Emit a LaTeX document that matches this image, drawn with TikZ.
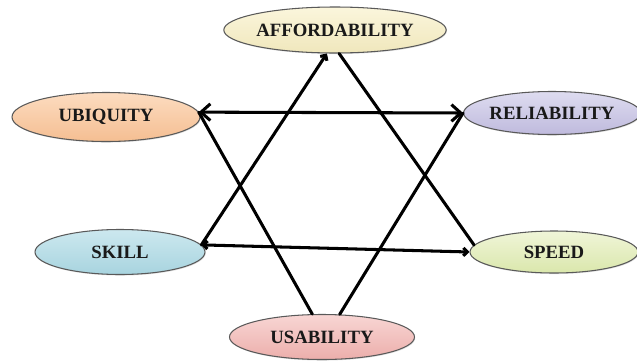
\documentclass[tikz,border=0pt]{standalone}
\usepackage{fontspec}
\setmainfont{Liberation Serif}
\usetikzlibrary{shapes.geometric,arrows.meta,shadows}

\definecolor{affTop}{HTML}{FBF6DC}
\definecolor{affBot}{HTML}{F0E7BC}
\definecolor{ubiTop}{HTML}{FCDCC0}
\definecolor{ubiBot}{HTML}{F5BE92}
\definecolor{relTop}{HTML}{DEDCF0}
\definecolor{relBot}{HTML}{BFBADD}
\definecolor{skiTop}{HTML}{CCE8EF}
\definecolor{skiBot}{HTML}{A8D4DF}
\definecolor{speTop}{HTML}{F0F5D8}
\definecolor{speBot}{HTML}{DAE7AC}
\definecolor{usaTop}{HTML}{F8D6D4}
\definecolor{usaBot}{HTML}{ECAEAB}

\begin{document}
\begin{tikzpicture}[x=0.03cm,y=-0.03cm,
  bubble/.style={ellipse, draw=black!65, line width=0.9pt, inner sep=0pt,
    drop shadow={opacity=0.25,shadow xshift=0.6pt,shadow yshift=-0.9pt},
    font=\fontsize{16}{18}\selectfont\bfseries, text=black!90},
  link/.style={line width=2.6pt, line cap=round},
  bigtip/.tip={Straight Barb[length=2.8mm,width=5mm]},
  smalltip/.tip={Straight Barb[length=1.2mm,width=2.4mm]}]
\useasboundingbox (0,0) rectangle (637,362);

% the six factors
\node[bubble, top color=affTop, bottom color=affBot,
  minimum width=6.12cm, minimum height=1.38cm] (aff) at (335,30) {AFFORDABILITY};
\node[bubble, top color=ubiTop, bottom color=ubiBot,
  minimum width=5.64cm, minimum height=1.47cm] (ubi) at (106,117) {UBIQUITY};
\node[bubble, top color=relTop, bottom color=relBot,
  minimum width=5.1cm, minimum height=1.29cm] (rel) at (552,113) {RELIABILITY};
\node[bubble, top color=skiTop, bottom color=skiBot,
  minimum width=5.1cm, minimum height=1.35cm] (ski) at (120,252) {SKILL};
\node[bubble, top color=speTop, bottom color=speBot,
  minimum width=5.04cm, minimum height=1.26cm] (spe) at (554,252) {SPEED};
\node[bubble, top color=usaTop, bottom color=usaBot,
  minimum width=5.55cm, minimum height=1.35cm] (usa) at (322,337) {USABILITY};

% crossing links
\draw[link, bigtip-bigtip] (ubi.3) -- (rel.west);
\draw[link, smalltip-smalltip] (ski.5) -- (spe.west);
\draw[link, smalltip-] (aff.251) -- (ski.5);
\draw[link] (aff.280) -- (spe.175);
\draw[link] (usa.113) -- (ubi.3);
\draw[link] (usa.52) -- (rel.west);
\end{tikzpicture}
\end{document}
